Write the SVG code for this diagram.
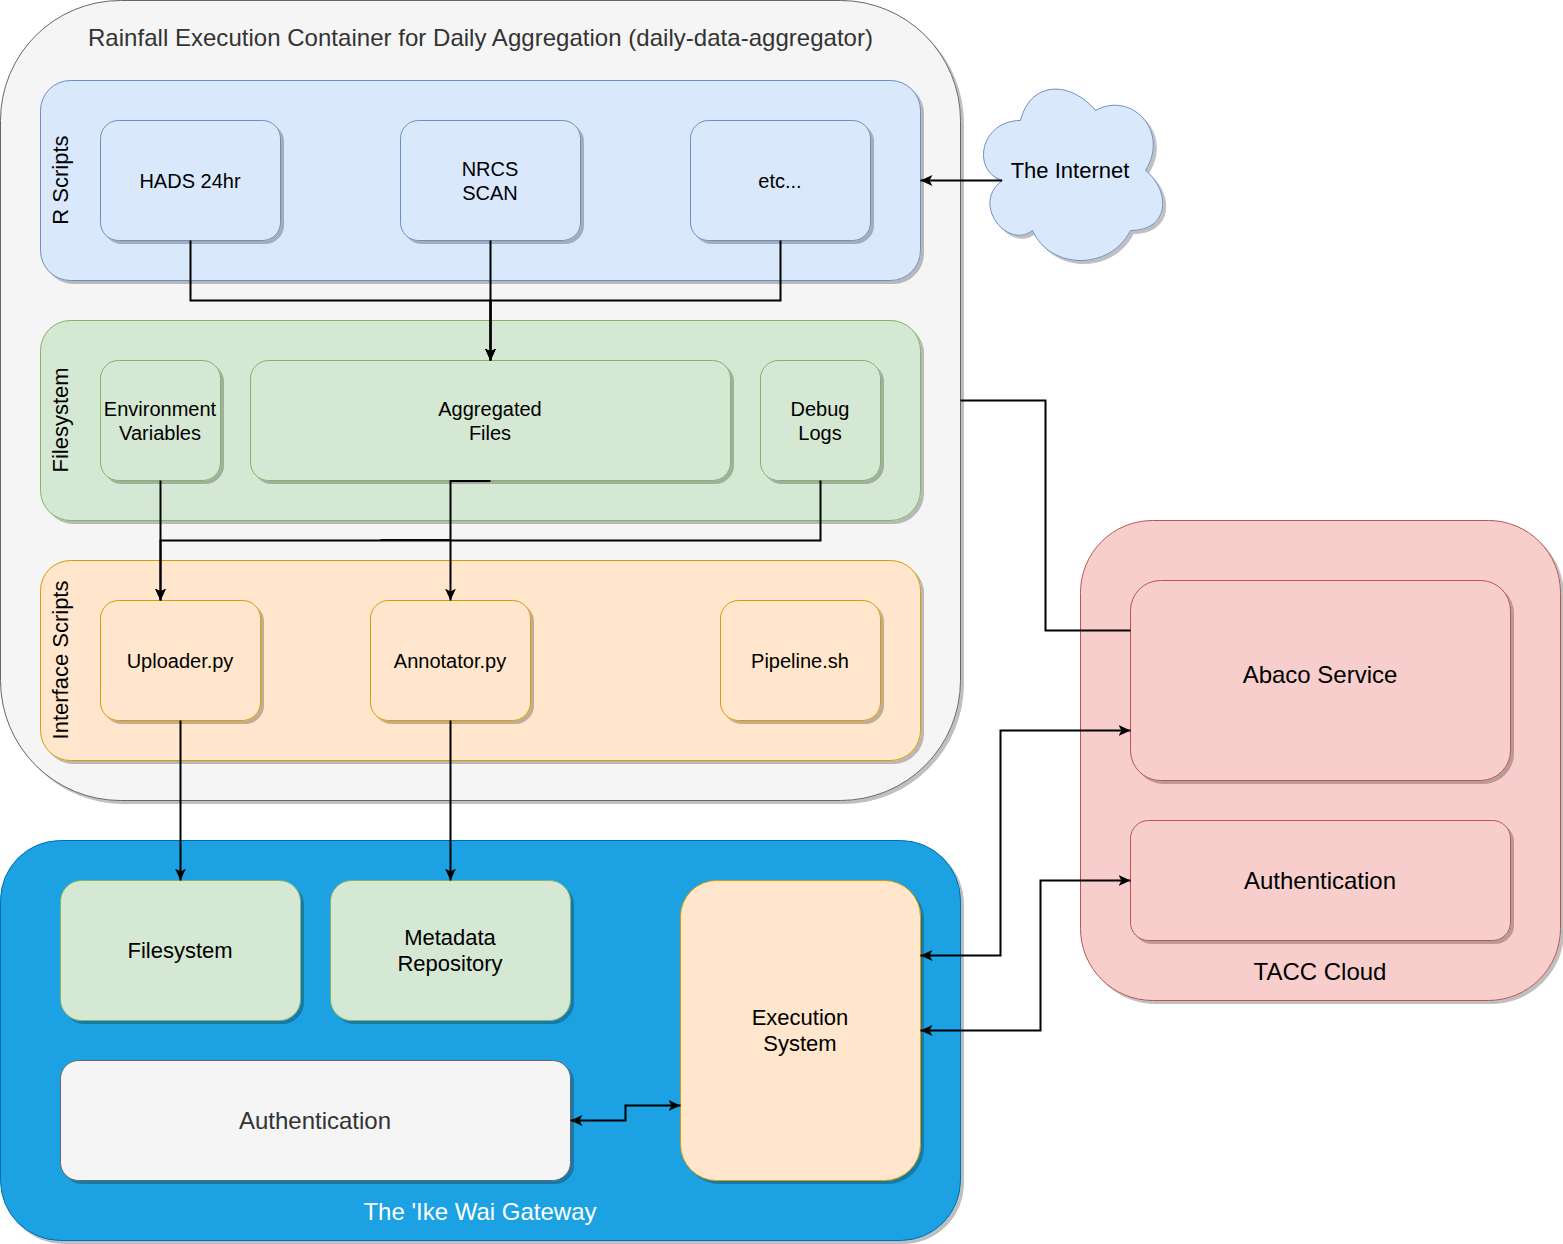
<svg xmlns="http://www.w3.org/2000/svg" width="1563" height="1244" viewBox="0 0 1563 1244">
<style>
text{font-family:"Liberation Sans",Arial,sans-serif;text-anchor:middle;fill:#000}
.t24{font-size:24px}.t20{font-size:20px}.t22{font-size:22px}
.gray{fill:#f5f5f5;stroke:#666}.blue{fill:#dae8fc;stroke:#6c8ebf}.green{fill:#d5e8d4;stroke:#82b366}.orange{fill:#ffe6cc;stroke:#d79b00}.red{fill:#f8cecc;stroke:#b85450}.gw{fill:#1ba1e2;stroke:#006eaf}
.s{filter:url(#sh)}
.e{fill:none;stroke:#000;stroke-width:2}
.a{marker-end:url(#ah)}.b{marker-start:url(#as);marker-end:url(#ah)}
</style>
<defs>
<filter id="sh" x="-5%" y="-5%" width="110%" height="110%"><feDropShadow dx="3" dy="3" stdDeviation="0" flood-color="#000" flood-opacity="0.25"/></filter>
<marker id="ah" markerUnits="userSpaceOnUse" markerWidth="13" markerHeight="13" refX="12" refY="6" orient="auto"><path d="M0,0.5L12,6L0,11.5L3,6z" fill="#000"/></marker>
<marker id="as" markerUnits="userSpaceOnUse" markerWidth="13" markerHeight="13" refX="0" refY="6" orient="auto"><path d="M12,0.5L0,6L12,11.5L9,6z" fill="#000"/></marker>
</defs>
<g id="container"><rect class="gray s" x="0.5" y="0.5" width="960" height="800" rx="120"/><text class="t24" style="fill:#333" x="480.5" y="46" textLength="785">Rainfall Execution Container for Daily Aggregation (daily-data-aggregator)</text></g>
<g id="rscripts"><rect class="blue s" x="40.5" y="80.5" width="880" height="200" rx="30"/><text class="t22" transform="translate(68 180) rotate(-90)">R Scripts</text></g>
<g id="filesystem-group"><rect class="green s" x="40.5" y="320.5" width="880" height="200" rx="30"/><text class="t22" transform="translate(68 420) rotate(-90)">Filesystem</text></g>
<g id="interface"><rect class="orange s" x="40.5" y="560.5" width="880" height="200" rx="30"/><text class="t22" transform="translate(68 660) rotate(-90)">Interface Scripts</text></g>
<g id="hads"><rect class="blue s" x="100.5" y="120.5" width="180" height="120" rx="18"/><text class="t20" x="190" y="188">HADS 24hr</text></g>
<g id="nrcs"><rect class="blue s" x="400.5" y="120.5" width="180" height="120" rx="18"/><text class="t20" x="490" y="176">NRCS</text><text class="t20" x="490" y="200">SCAN</text></g>
<g id="etc"><rect class="blue s" x="690.5" y="120.5" width="180" height="120" rx="18"/><text class="t20" x="780" y="188">etc...</text></g>
<g id="env"><rect class="green s" x="100.5" y="360.5" width="120" height="120" rx="18"/><text class="t20" x="160" y="416">Environment</text><text class="t20" x="160" y="440">Variables</text></g>
<g id="aggregated"><rect class="green s" x="250.5" y="360.5" width="480" height="120" rx="18"/><text class="t20" x="490" y="416">Aggregated</text><text class="t20" x="490" y="440">Files</text></g>
<g id="debug"><rect class="green s" x="760.5" y="360.5" width="120" height="120" rx="18"/><text class="t20" x="820" y="416">Debug</text><text class="t20" x="820" y="440">Logs</text></g>
<g id="uploader"><rect class="orange s" x="100.5" y="600.5" width="160" height="120" rx="18"/><text class="t20" x="180" y="668">Uploader.py</text></g>
<g id="annotator"><rect class="orange s" x="370.5" y="600.5" width="160" height="120" rx="18"/><text class="t20" x="450" y="668">Annotator.py</text></g>
<g id="pipeline"><rect class="orange s" x="720.5" y="600.5" width="160" height="120" rx="18"/><text class="t20" x="800" y="668">Pipeline.sh</text></g>
<g id="internet"><path class="blue s" d="M1020.500 120.500C980.500 120.500 970.500 170.500 1002.500 180.500C970.500 202.500 1006.500 250.500 1032.500 230.500C1050.500 270.500 1110.500 270.500 1130.500 230.500C1170.500 230.500 1170.500 190.500 1145.500 170.500C1170.500 130.500 1130.500 90.500 1095.500 110.500C1070.500 80.500 1030.500 80.500 1020.500 120.500z"/><text class="t22" x="1070" y="178">The Internet</text></g>
<g id="gateway"><rect class="gw s" x="0.5" y="840.500" width="960" height="400" rx="60"/><text class="t24" style="fill:#fff" x="480" y="1220">The 'Ike Wai Gateway</text></g>
<g id="gw-filesystem"><rect class="green s" x="60.5" y="880.5" width="240" height="140" rx="21"/><text class="t22" x="180" y="958">Filesystem</text></g>
<g id="metadata"><rect class="green s" x="330.5" y="880.5" width="240" height="140" rx="21"/><text class="t22" x="450" y="945">Metadata</text><text class="t22" x="450" y="971">Repository</text></g>
<g id="gw-auth"><rect class="gray s" x="60.5" y="1060.5" width="510" height="120" rx="18"/><text class="t24" style="fill:#333" x="315" y="1129">Authentication</text></g>
<g id="execution"><rect class="orange s" x="680.5" y="880.5" width="240" height="300" rx="36"/><text class="t22" x="800" y="1025">Execution</text><text class="t22" x="800" y="1051">System</text></g>
<g id="tacc"><rect class="red s" x="1080.5" y="520.5" width="480" height="480" rx="72"/><text class="t24" x="1320" y="980">TACC Cloud</text></g>
<g id="abaco"><rect class="red s" x="1130.5" y="580.5" width="380" height="200" rx="30"/><text class="t24" x="1320" y="683">Abaco Service</text></g>
<g id="tacc-auth"><rect class="red s" x="1130.5" y="820.5" width="380" height="120" rx="18"/><text class="t24" x="1320" y="889">Authentication</text></g>
<g id="connectors">
<path class="e a" d="M190.500 240.500V300.500H490.500V360.500"/>
<path class="e a" d="M490.500 240.500V360.500"/>
<path class="e a" d="M780.500 240.500V300.500H490.500V360.500"/>
<path class="e a" d="M160.500 480.500V600.500"/>
<path class="e a" d="M490.500 481H450.500V600.500"/>
<path class="e a" d="M820.500 480.500V540.500H160.500V600.500"/>
<path class="e" d="M380.500 540H450.500"/>
<path class="e a" d="M180.500 720.500V880.500"/>
<path class="e a" d="M450.500 720.500V880.500"/>
<path class="e a" d="M1002 180.500H920.500"/>
<path class="e" d="M960.500 400.500H1045.500V630.500H1130.500"/>
<path class="e b" d="M920.500 955.500H1000.500V730.500H1130.500"/>
<path class="e b" d="M920.500 1030.500H1040.500V880.500H1130.500"/>
<path class="e b" d="M570.500 1120.500H625.500V1105.500H680.500"/>
</g>
</svg>
